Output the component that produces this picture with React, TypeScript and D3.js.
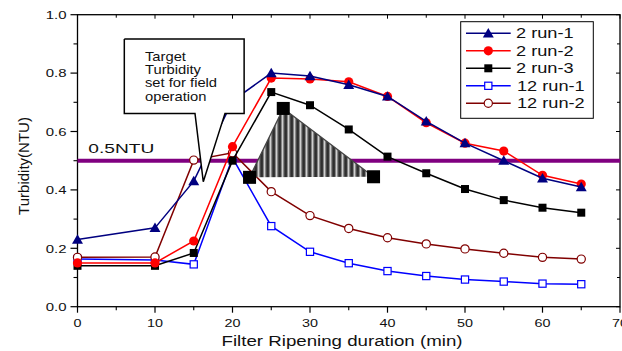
import React from 'react';
import * as d3 from 'd3';

// filter ripening minutes
const minutes = [0, 10, 15, 20, 25, 30, 35, 40, 45, 50, 55, 60, 65];

const run2_1 = [0.23, 0.27, 0.43, 0.705, 0.8, 0.79, 0.76, 0.72, 0.635, 0.56, 0.5, 0.44, 0.41];
const run2_2 = [0.15, 0.15, 0.225, 0.548, 0.783, 0.78, 0.77, 0.72, 0.63, 0.56, 0.533, 0.45, 0.42];
const run2_3 = [0.14, 0.14, 0.184, 0.5, 0.735, 0.69, 0.607, 0.514, 0.457, 0.403, 0.365, 0.339, 0.322];
const run12_1 = [0.163, 0.16, 0.145, 0.51, 0.276, 0.188, 0.149, 0.122, 0.105, 0.093, 0.086, 0.079, 0.077];
const run12_2 = [0.169, 0.17, 0.502, 0.527, 0.394, 0.312, 0.268, 0.236, 0.215, 0.198, 0.183, 0.169, 0.163];

const seriesNames = ['2 run-1', '2 run-2', '2 run-3', '12 run-1', '12 run-2'];

const xTicks = [0, 10, 20, 30, 40, 50, 60, 70];
const yTicks = [0, 0.2, 0.4, 0.6, 0.8, 1.0];

const targetNTU = 0.5;
// hatched triangle corners (minutes, NTU)
const triangle: [number, number][] = [[22.2, 0.443], [26.55, 0.679], [38.2, 0.445]];
// callout box (minutes, NTU)
const calloutBox = { x0: 6.04, x1: 21.5, y0: 0.662, y1: 0.917 };
const calloutTip: [number, number] = [16.23, 0.428];
const calloutBase = [15.16, 19.03];
const calloutLines = ['Target', 'Turbidity', 'set for field', 'operation'];

const W = 622;
const H = 351;
const left = 77.5;
const right = 620;
const top = 14.7;
const bottom = 306.7;
const font = 'Arial, "Liberation Sans", sans-serif';

type Marker = 'triangle' | 'circle' | 'square' | 'openSquare' | 'openCircle';

const styles: { color: string; marker: Marker }[] = [
  { color: '#000080', marker: 'triangle' },
  { color: '#ff0000', marker: 'circle' },
  { color: '#000000', marker: 'square' },
  { color: '#0000ff', marker: 'openSquare' },
  { color: '#800000', marker: 'openCircle' },
];

const allSeries = [run2_1, run2_2, run2_3, run12_1, run12_2];

const MarkerShape = ({ x, y, marker, color }: { x: number; y: number; marker: Marker; color: string }) => {
  if (marker === 'triangle') {
    const p = d3.symbol().type(d3.symbolTriangle).size(52)();
    return <path d={p || ''} transform={`translate(${x},${y + 1})`} fill={color} />;
  }
  if (marker === 'circle') return <circle cx={x} cy={y} r={4.6} fill={color} />;
  if (marker === 'square') return <rect x={x - 4} y={y - 4} width={8} height={8} fill={color} />;
  if (marker === 'openSquare')
    return <rect x={x - 3.6} y={y - 3.6} width={7.2} height={7.2} fill="#fff" stroke={color} strokeWidth={1.2} />;
  return <circle cx={x} cy={y} r={4.1} fill="#fff" stroke={color} strokeWidth={1.2} />;
};

const SText = ({ x, y, size, sx = 1.25, anchor = 'start', children, fill = '#111' }: any) => (
  <text
    transform={`translate(${x},${y}) scale(${sx},1)`}
    textAnchor={anchor}
    fontSize={size}
    fontFamily={font}
    fill={fill}
  >
    {children}
  </text>
);

const App = () => {
  const x = d3.scaleLinear().domain([0, 70]).range([left, right]);
  const y = d3.scaleLinear().domain([0, 1]).range([bottom, top]);

  const line = d3
    .line<number>()
    .x((_, i) => x(minutes[i]))
    .y((d) => y(d));

  const xMinor = d3.range(5, 70, 10);
  const yMinor = d3.range(0.1, 1, 0.2);

  const triPath = d3.line()(triangle.map(([a, b]) => [x(a), y(b)] as [number, number]));

  const cb = calloutBox;
  const calloutPath = d3.line()([
    [x(cb.x0), y(cb.y1)],
    [x(cb.x1), y(cb.y1)],
    [x(cb.x1), y(cb.y0)],
    [x(calloutBase[1]), y(cb.y0)],
    [x(calloutTip[0]), y(calloutTip[1])],
    [x(calloutBase[0]), y(cb.y0)],
    [x(cb.x0), y(cb.y0)],
    [x(cb.x0), y(cb.y1)],
  ]);

  const drawOrder = [3, 4, 2, 1, 0];

  return (
    <svg width={W} height={H} style={{ position: 'absolute', left: 0, top: 0, background: '#fff' }}>
      <defs>
        <linearGradient id="stripe" x1="0" x2="1" y1="0" y2="0">
          <stop offset="0" stopColor="#f4f4f4" />
          <stop offset="0.25" stopColor="#888" />
          <stop offset="0.5" stopColor="#2a2a2a" />
          <stop offset="0.8" stopColor="#3a3a3a" />
          <stop offset="1" stopColor="#bbb" />
        </linearGradient>
        <pattern id="hatch" patternUnits="userSpaceOnUse" width={6} height={10}>
          <rect width={6} height={10} fill="url(#stripe)" />
        </pattern>
      </defs>

      {/* frame */}
      <rect x={left} y={top} width={right - left} height={bottom - top} fill="none" stroke="#000" strokeWidth={1.3} />

      {/* x ticks */}
      {xTicks.map((t) => (
        <g key={'xt' + t}>
          <line x1={x(t)} x2={x(t)} y1={bottom} y2={bottom + 6} stroke="#000" strokeWidth={1.2} />
          <line x1={x(t)} x2={x(t)} y1={top} y2={top + 4} stroke="#000" strokeWidth={1} />
          <SText x={x(t)} y={bottom + 20} size={11.5} anchor="middle">
            {t}
          </SText>
        </g>
      ))}
      {xMinor.map((t) => (
        <g key={'xm' + t}>
          <line x1={x(t)} x2={x(t)} y1={bottom} y2={bottom + 3.5} stroke="#000" strokeWidth={1.1} />
          <line x1={x(t)} x2={x(t)} y1={top} y2={top + 3} stroke="#000" strokeWidth={1} />
        </g>
      ))}

      {/* y ticks */}
      {yTicks.map((t) => (
        <g key={'yt' + t}>
          <line x1={left - 7} x2={left} y1={y(t)} y2={y(t)} stroke="#000" strokeWidth={1.2} />
          <line x1={right - 4} x2={right} y1={y(t)} y2={y(t)} stroke="#000" strokeWidth={1} />
          <SText x={left - 11} y={y(t) + 4.2} size={11.5} sx={1.3} anchor="end">
            {d3.format('.1f')(t)}
          </SText>
        </g>
      ))}
      {yMinor.map((t) => (
        <g key={'ym' + t}>
          <line x1={left - 4} x2={left} y1={y(t)} y2={y(t)} stroke="#000" strokeWidth={1.1} />
          <line x1={right - 3} x2={right} y1={y(t)} y2={y(t)} stroke="#000" strokeWidth={1} />
        </g>
      ))}

      {/* axis titles */}
      <text
        transform={`translate(${x(0) - 49},${166}) rotate(-90)`}
        textAnchor="middle"
        fontSize={15}
        fontFamily={font}
        fill="#111"
      >
        Turbidity(NTU)
      </text>
      <text
        x={342}
        y={346}
        textAnchor="middle"
        fontSize={15.5}
        fontFamily={font}
        fill="#111"
        textLength={241}
        lengthAdjust="spacingAndGlyphs"
      >
        Filter Ripening duration (min)
      </text>

      {/* 0.5 NTU target line */}
      <line x1={left} x2={right} y1={y(targetNTU)} y2={y(targetNTU)} stroke="#800080" strokeWidth={4} />
      <text x={88.3} y={152.7} fontSize={13} fontFamily={font} fill="#111" textLength={66} lengthAdjust="spacingAndGlyphs">
        0.5NTU
      </text>

      {/* series */}
      {drawOrder.map((si) => (
        <g key={'s' + si}>
          <path d={line(allSeries[si]) || ''} fill="none" stroke={styles[si].color} strokeWidth={1.5} />
          {allSeries[si].map((v, i) => (
            <MarkerShape key={i} x={x(minutes[i])} y={y(v)} marker={styles[si].marker} color={styles[si].color} />
          ))}
        </g>
      ))}

      {/* hatched triangle */}
      <path d={triPath || ''} fill="url(#hatch)" stroke="#444" strokeWidth={1.3} />
      {triangle.map(([a, b], i) => (
        <rect key={'tv' + i} x={x(a) - 6.5} y={y(b) - 6.5} width={13} height={13} fill="#000" />
      ))}

      {/* callout */}
      <path d={calloutPath || ''} fill="#fff" stroke="#000" strokeWidth={1.5} strokeLinejoin="miter" />
      {calloutLines.map((s, i) => (
        <SText key={s} x={145} y={60.7 + i * 13.3} size={12.5} sx={1.18}>
          {s}
        </SText>
      ))}

      {/* legend */}
      <rect x={460.7} y={21.7} width={132.6} height={96.6} fill="#fff" stroke="#000" strokeWidth={1} />
      {seriesNames.map((name, i) => {
        const cy = 33.3 + i * 17.5;
        return (
          <g key={name}>
            <line x1={466} x2={510.7} y1={cy} y2={cy} stroke={styles[i].color} strokeWidth={1.5} />
            <MarkerShape x={488.3} y={cy} marker={styles[i].marker} color={styles[i].color} />
            <SText x={i < 3 ? 516 : 517} y={cy + 5} size={14} sx={1.3}>
              {name}
            </SText>
          </g>
        );
      })}
    </svg>
  );
};

export default App;
